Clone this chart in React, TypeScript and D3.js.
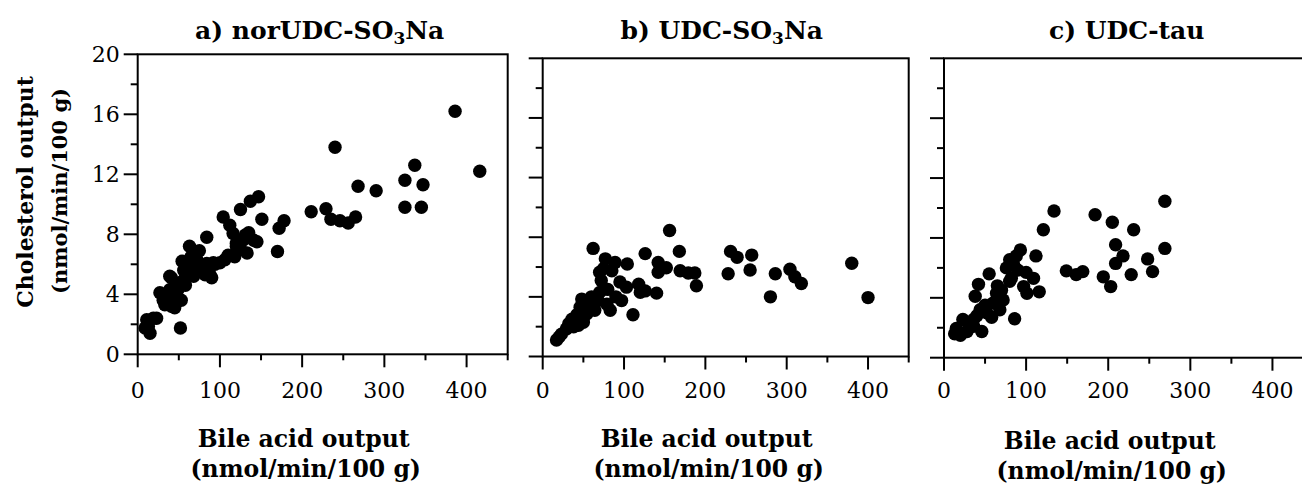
import React from "react";
import * as d3 from "d3";

const panelTitles = ["a) norUDC-SO", "b) UDC-SO", "c) UDC-tau"];
const xMajorTicks = [0, 100, 200, 300, 400];
const xMinorTicks = [50, 150, 250, 350, 450];
const yMajorTicks = [0, 4, 8, 12, 16, 20];
const yMinorTicks = [2, 6, 10, 14, 18];
const xDomain = [0, 450];
const yDomain = [0, 20];

const seriesA: [number, number][] = [
  [386, 16.2], [240, 13.8], [416, 12.2], [337, 12.6], [325, 11.6], [347, 11.3], [325, 9.8], [345, 9.8],
  [268, 11.2], [290, 10.9], [211, 9.5], [229, 9.7], [235, 9.0], [246, 8.9], [256, 8.75], [265, 9.15],
  [151, 9.0], [172, 8.4], [178, 8.9], [170, 6.85], [147, 10.5], [137, 10.2], [125, 9.65], [104, 9.15],
  [112, 8.6], [84, 7.8], [63, 7.2], [75, 6.9], [54, 6.2], [62, 5.85], [141, 7.6], [133, 6.75],
  [120, 7.2], [116, 8.05], [131, 7.95], [118, 6.5], [106, 6.3], [94, 6.0], [90, 5.1], [82, 5.3],
  [76, 5.85], [84, 6.05], [72, 6.3], [58, 5.4], [54, 4.85], [58, 4.6], [41, 5.1], [39, 4.3],
  [27, 4.1], [31, 3.6], [40, 3.6], [33, 3.3], [45, 3.1], [53, 3.6], [52, 1.75], [19, 2.4],
  [13, 1.85], [15, 1.4], [11, 2.3], [23, 2.4], [128, 7.6], [145, 7.5], [120, 7.4], [92, 6.1],
  [88, 5.3], [72, 5.6], [56, 5.6], [39, 5.2], [47, 4.7], [35, 3.8], [41, 3.2], [47, 3.6],
  [49, 4.3], [9, 1.75], [100, 6.1], [110, 6.6], [125, 7.0], [135, 8.1], [65, 6.5], [68, 5.2], [30, 4.0],
];

const seriesB: [number, number][] = [
  [156, 8.45], [62, 7.25], [126, 6.9], [168, 7.05], [231, 7.05], [239, 6.65], [257, 6.8], [228, 5.55],
  [255, 5.8], [286, 5.55], [304, 5.85], [310, 5.35], [318, 4.9], [280, 4.0], [380, 6.25], [400, 3.95],
  [189, 4.75], [142, 6.3], [142, 5.65], [152, 5.95], [169, 5.75], [179, 5.6], [187, 5.6], [77, 6.55],
  [89, 6.3], [104, 6.2], [70, 5.65], [85, 5.75], [72, 5.1], [95, 5.0], [103, 4.65], [118, 4.85],
  [120, 4.3], [140, 4.25], [97, 3.75], [111, 2.8], [70, 4.3], [68, 3.75], [83, 3.1], [64, 3.1],
  [48, 3.85], [46, 3.3], [54, 2.85], [36, 2.5], [38, 2.0], [29, 1.85], [23, 1.5], [17, 1.1],
  [50, 2.3], [44, 2.1], [79, 3.5], [58, 3.5], [126, 4.4], [80, 4.5], [60, 4.0], [90, 4.0],
  [42, 2.8], [32, 2.2], [20, 1.3], [75, 5.9],
];

const seriesC: [number, number][] = [
  [269, 10.45], [134, 9.8], [184, 9.55], [205, 9.05], [121, 8.55], [231, 8.55], [209, 7.55], [218, 6.8],
  [209, 6.3], [248, 6.6], [269, 7.3], [254, 5.75], [228, 5.55], [194, 5.4], [203, 4.75], [149, 5.8],
  [161, 5.55], [169, 5.75], [93, 7.2], [112, 6.8], [80, 6.55], [76, 6.0], [90, 5.85], [109, 5.3],
  [97, 4.75], [116, 4.4], [101, 4.3], [80, 5.1], [86, 2.6], [55, 5.6], [42, 4.9], [38, 4.1],
  [64, 4.3], [60, 3.65], [52, 3.0], [68, 3.2], [44, 3.2], [36, 2.55], [46, 1.75], [23, 2.55],
  [15, 1.95], [13, 1.6], [28, 1.75], [36, 2.1], [72, 3.85], [82, 5.3], [85, 6.2], [100, 5.7],
  [30, 2.3], [50, 3.5], [58, 2.7], [20, 1.5], [40, 2.8], [65, 4.8], [70, 4.5], [88, 6.8],
];

const allSeries = [seriesA, seriesB, seriesC];

const layout = [
  { left: 137.7, right: 507.7, top: 54.3, bottom: 354.3, showYLabels: true, titleDx: -3, titleDy: 0 },
  { left: 542.7, right: 908.7, top: 58.3, bottom: 356.5, showYLabels: false, titleDx: -4, titleDy: 0 },
  { left: 944, right: 1313.5, top: 58.3, bottom: 357.7, showYLabels: false, titleDx: -2, titleDy: 2 },
];

const SERIF = "'DejaVu Serif', serif";
const base = { fontFamily: SERIF, fill: "#000" } as React.CSSProperties;
const bold = { fontFamily: SERIF, fontWeight: 700, fill: "#000" } as React.CSSProperties;

function Panel({ idx }: { idx: number }) {
  const L = layout[idx];
  const x = d3.scaleLinear().domain(xDomain).range([L.left, L.right]);
  const y = d3.scaleLinear().domain(yDomain).range([L.bottom, L.top]);
  const data = allSeries[idx];
  const cx = (L.left + L.right) / 2;
  const majorLen = 14;
  const minorLen = 7;
  return (
    <g>
      <rect x={L.left} y={L.top} width={L.right - L.left} height={L.bottom - L.top}
        fill="none" stroke="#000" strokeWidth={2} />
      {yMajorTicks.map((t) => (
        <line key={"ym" + t} x1={L.left - majorLen} x2={L.left} y1={y(t)} y2={y(t)} stroke="#000" strokeWidth={2} />
      ))}
      {yMinorTicks.map((t) => (
        <line key={"yn" + t} x1={L.left - minorLen} x2={L.left} y1={y(t)} y2={y(t)} stroke="#000" strokeWidth={2} />
      ))}
      {L.showYLabels && yMajorTicks.map((t) => (
        <text key={"yl" + t} x={L.left - majorLen - 4} y={y(t)} dy="0.36em" textAnchor="end"
          style={{ ...base, fontSize: 22 }}>{t}</text>
      ))}
      {xMajorTicks.map((t) => (
        <line key={"xm" + t} x1={x(t)} x2={x(t)} y1={L.bottom} y2={L.bottom + 13} stroke="#000" strokeWidth={2} />
      ))}
      {xMinorTicks.filter((t) => x(t) <= 1302).map((t) => (
        <line key={"xn" + t} x1={x(t)} x2={x(t)} y1={L.bottom} y2={L.bottom + 6} stroke="#000" strokeWidth={2} />
      ))}
      {xMajorTicks.map((t) => (
        <text key={"xl" + t} x={x(t)} y={398} textAnchor="middle"
          style={{ ...base, fontSize: 22 }}>{t}</text>
      ))}
      {data.map((d, i) => (
        <circle key={i} cx={x(d[0])} cy={y(d[1])} r={6.7} fill="#000" />
      ))}
      <text x={cx + L.titleDx} y={39} textAnchor="middle" style={{ ...bold, fontSize: 25 }}>
        {idx < 2 ? (
          <>
            {panelTitles[idx]}
            <tspan style={{ fontSize: 17 }} dy={5}>3</tspan>
            <tspan dy={-5}>Na</tspan>
          </>
        ) : panelTitles[idx]}
      </text>
      <text x={cx - 19} y={447 + L.titleDy} textAnchor="middle" style={{ ...bold, fontSize: 23.5 }}>
        Bile acid output
      </text>
      <text x={cx - 17} y={477 + L.titleDy} textAnchor="middle" style={{ ...bold, fontSize: 23.5 }}>
        (nmol/min/100 g)
      </text>
    </g>
  );
}

export default function App() {
  return (
    <svg width={1302} height={486} style={{ position: "absolute", left: 0, top: 0, background: "#fff" }}>
      <rect x={0} y={0} width={1302} height={486} fill="#fff" />
      {[0, 1, 2].map((i) => <Panel key={i} idx={i} />)}
      <g transform="translate(33,192) rotate(-90)">
        <text x={0} y={0} textAnchor="middle" style={{ ...bold, fontSize: 22 }}>
          Cholesterol output
        </text>
      </g>
      <g transform="translate(67,191) rotate(-90)">
        <text x={0} y={0} textAnchor="middle" style={{ ...bold, fontSize: 21 }}>
          (nmol/min/100 g)
        </text>
      </g>
    </svg>
  );
}
